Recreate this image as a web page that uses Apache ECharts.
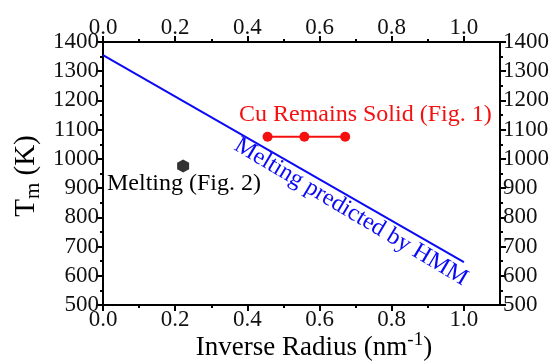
<!DOCTYPE html>
<html>
<head>
<meta charset="utf-8">
<script src="https://cdn.jsdelivr.net/npm/echarts@6/dist/echarts.min.js"></script>
<style>html,body{margin:0;padding:0;background:#fff}#c{width:556px;height:362px}</style>
</head>
<body>
<div id="c"></div>
<script>
const xTicks = [0, 0.2, 0.4, 0.6, 0.8, 1.0];
const xMinorTicks = [0.1, 0.3, 0.5, 0.7, 0.9];
const hmmX = [0, 1.0];
const hmmY = [1355, 647];
const solidX = [0.456, 0.558, 0.671];
const solidY = [1076, 1076, 1076];
const meltX = [0.222];
const meltY = [976];

const FONT = 'Liberation Serif';
const tickFs = 23;
const chart = echarts.init(document.getElementById('c'), null, {renderer: 'canvas'});
const lineStyle = {color: '#000', width: 2};
function xAxisDef(pos, show) {
  return {
    type: 'value', position: pos, min: 0, max: 1.1,
    axisLine: {show: true, onZero: false, lineStyle},
    axisTick: {show: true, inside: false, length: 6, lineStyle: {color: '#000', width: 2}, customValues: xTicks},
    axisLabel: {show: show, fontFamily: FONT, fontSize: tickFs, color: '#111', margin: 3,
      customValues: xTicks, formatter: v => v.toFixed(1)},
    splitLine: {show: false}
  };
}
function xMinorDef(pos) {
  return {
    type: 'value', position: pos, min: 0, max: 1.1,
    axisLine: {show: false},
    axisTick: {show: true, inside: false, length: 3, lineStyle: {color: '#000', width: 2}, customValues: xMinorTicks},
    axisLabel: {show: false},
    splitLine: {show: false}
  };
}
function yAxisDef(pos) {
  return {
    type: 'value', position: pos, min: 500, max: 1400, interval: 100,
    axisLine: {show: true, onZero: false, lineStyle},
    axisTick: {show: true, inside: false, length: 6, lineStyle: {color: '#000', width: 2}},
    minorTick: {show: true, splitNumber: 2, length: 3, lineStyle: {color: '#000', width: 2}},
    axisLabel: {fontFamily: FONT, fontSize: tickFs, color: '#111', margin: pos === 'left' ? 4 : 3,
      formatter: v => String(v)},
    splitLine: {show: false}
  };
}
const hexPath = 'path://M0,-1 L0.866,-0.5 L0.866,0.5 L0,1 L-0.866,0.5 L-0.866,-0.5 Z';
chart.setOption({
  animation: false,
  grid: {left: 103, right: 56, top: 42, bottom: 57, containLabel: false},
  xAxis: [xAxisDef('bottom', true), xAxisDef('top', true), xMinorDef('bottom'), xMinorDef('top')],
  yAxis: [yAxisDef('left'), yAxisDef('right')],
  series: [
    {type: 'line', xAxisIndex: 0, yAxisIndex: 0, data: hmmX.map((x, i) => [x, hmmY[i]]),
      showSymbol: false, lineStyle: {color: '#0a0af5', width: 2}},
    {type: 'line', xAxisIndex: 0, yAxisIndex: 0, data: solidX.map((x, i) => [x, solidY[i]]),
      symbol: 'circle', symbolSize: 10, itemStyle: {color: '#f51010'}, lineStyle: {color: '#f51010', width: 2}},
    {type: 'scatter', xAxisIndex: 0, yAxisIndex: 0, data: meltX.map((x, i) => [x, meltY[i]]),
      symbol: hexPath, symbolSize: [12, 13], itemStyle: {color: '#000'}}
  ],
  graphic: [
    {type: 'text', left: 239, top: 103, style: {text: 'Cu Remains Solid (Fig. 1)', fill: '#f51010', font: '24px "Liberation Serif"'}},
    {type: 'text', left: 107, top: 172, style: {text: 'Melting (Fig. 2)', fill: '#000', font: '24px "Liberation Serif"'}},
    {type: 'text', x: 351, y: 212, rotation: -Math.PI * 30.8 / 180,
      style: {text: 'Melting predicted by HMM', fill: '#0a0af5', font: '24px "Liberation Serif"', align: 'center', verticalAlign: 'middle'}},
    {type: 'text', x: 314, y: 348,
      style: {text: '{a|Inverse Radius (nm}{s|-1}{a|)}', align: 'center', verticalAlign: 'middle',
        rich: {a: {fontFamily: FONT, fontSize: 27, color: '#111'},
               s: {fontFamily: FONT, fontSize: 19, color: '#111', padding: [0, 0, 16, 0]}}}},
    {type: 'text', x: 26, y: 176, rotation: Math.PI / 2,
      style: {text: '{a|T}{s|m}{a| (K)}', align: 'center', verticalAlign: 'middle',
        rich: {a: {fontFamily: FONT, fontSize: 29, color: '#111'},
               s: {fontFamily: FONT, fontSize: 21, color: '#111', padding: [14, 0, 0, 0]}}}}
  ]
});
</script>
</body>
</html>
